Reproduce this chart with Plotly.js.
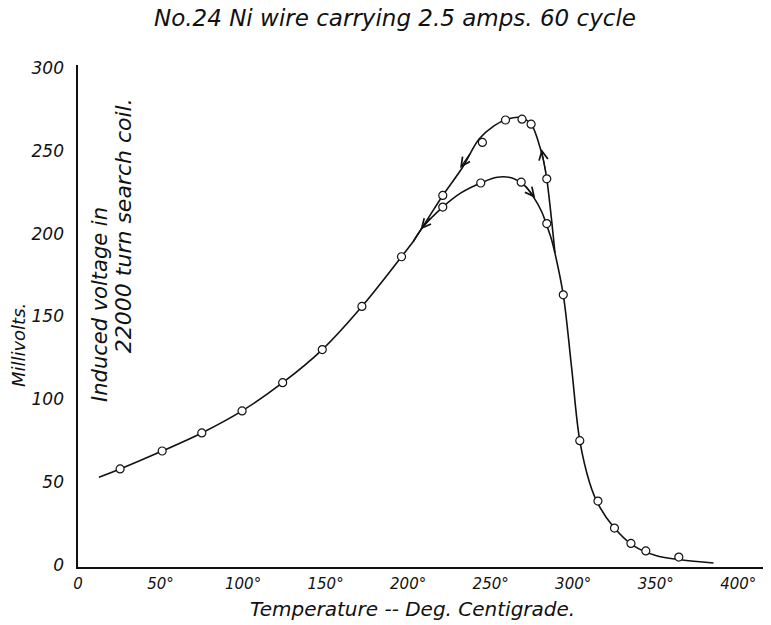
<!DOCTYPE html>
<html>
<head>
<meta charset="utf-8">
<script src="https://cdn.plot.ly/plotly-3.0.1.min.js"></script>
<style>html,body{margin:0;padding:0;background:#fff;}#chart{width:771px;height:625px;}</style>
</head>
<body>
<div id="chart"></div>
<script>
// Observed points (open circles)
const pointTemp = [25.5, 51, 75, 99.4, 124, 148, 172, 196, 221, 221, 244, 245, 259, 269, 274.5, 268.5, 284, 284, 294, 304, 315, 325, 335, 344, 364];
const pointMv   = [58, 68.8, 79.7, 93, 110, 130, 156, 186, 223, 216, 230.5, 255, 268.5, 269, 266, 231, 233, 206, 163, 75, 38.6, 22.3, 13, 8.5, 4.8];

// Drawn curve, common rising part
const riseTemp = [12.7, 25.5, 51, 75, 99.4, 124, 148, 172, 196, 203];
const riseMv   = [53, 58, 68.8, 79.7, 93, 110, 130, 156, 186, 195];
// Upper branch
const upperTemp = [203, 212, 221, 233, 243, 252, 260, 268, 274.5, 279, 282, 284, 286.5, 289];
const upperMv   = [195, 209, 223, 240, 257, 265, 269, 270, 266, 255, 244, 233, 212, 188];
// Lower branch
const lowerTemp = [203, 209, 221, 232, 244, 254, 263, 270, 276, 281, 284, 287, 289];
const lowerMv   = [195, 204, 216, 224.5, 230.5, 234, 233.5, 229.5, 222, 213, 205, 196, 188];
// Falling part
const fallTemp = [289, 294, 299, 304, 310, 315, 324, 336, 351, 365, 385];
const fallMv   = [188, 163, 119.5, 75, 49.5, 37, 23.5, 12, 5.4, 3.2, 1.2];

// Arrows: tail and head positions
const arrowTailT = [238, 283.6, 270.5, 214];
const arrowTailV = [249, 236, 229.5, 210];
const arrowHeadT = [231.5, 280.8, 277, 207.5];
const arrowHeadV = [239.5, 251, 221.5, 202.5];

const xTickVals = [0, 50, 100, 150, 200, 250, 300, 350, 400];
const xTickText = ['0', '50°', '100°', '150°', '200°', '250°', '300°', '350°', '400°'];
const yTickVals = [0, 50, 100, 150, 200, 250, 300];
const yTickText = ['0', '50', '100', '150', '200', '250', '300'];

const FONT = 'DejaVu Sans, sans-serif';
const lineStyle = {color: '#111', width: 1.6, shape: 'spline', smoothing: 1};

const traces = [
  {x: riseTemp, y: riseMv, mode: 'lines', line: lineStyle, hoverinfo: 'skip'},
  {x: upperTemp, y: upperMv, mode: 'lines', line: lineStyle, hoverinfo: 'skip'},
  {x: lowerTemp, y: lowerMv, mode: 'lines', line: lineStyle, hoverinfo: 'skip'},
  {x: fallTemp, y: fallMv, mode: 'lines', line: lineStyle, hoverinfo: 'skip'},
  {x: pointTemp, y: pointMv, mode: 'markers',
   marker: {symbol: 'circle', size: 8, color: '#fff', line: {color: '#111', width: 1.2}}}
];

const annotations = [];
for (let i = 0; i < arrowHeadT.length; i++) {
  annotations.push({x: arrowHeadT[i], y: arrowHeadV[i], ax: arrowTailT[i], ay: arrowTailV[i],
    xref: 'x', yref: 'y', axref: 'x', ayref: 'y', text: '', showarrow: true,
    arrowhead: 5, arrowsize: 1.6, arrowwidth: 1.1, arrowcolor: '#111'});
}
const txt = (text, x, y, size, angle) => ({text, x, y, xref: 'paper', yref: 'paper',
  xanchor: 'center', yanchor: 'middle', showarrow: false, textangle: angle || 0,
  font: {family: FONT, size, color: '#111', style: 'italic', weight: 300}});
annotations.push(txt('No.24 Ni wire carrying 2.5 amps. 60 cycle', 0.463, 1.094, 23));
annotations.push(txt('Millivolts.', -0.0876, 0.442, 18, -90));
annotations.push(txt('Induced voltage in', 0.0321, 0.524, 21, -90));
annotations.push(txt('22000 turn search coil.', 0.0657, 0.679, 22, -90));
annotations.push(txt('Temperature -- Deg. Centigrade.', 0.4876, -0.0837, 20));

const layout = {
  width: 771, height: 625,
  margin: {l: 78, r: 8, t: 65, b: 58},
  paper_bgcolor: '#fff', plot_bgcolor: '#fff',
  showlegend: false,
  xaxis: {range: [0, 415], showgrid: false, zeroline: false, showline: true, linecolor: '#111', linewidth: 1.6,
    ticks: '', tickvals: xTickVals, ticktext: xTickText, ticklabelstandoff: 2,
    tickfont: {family: FONT, size: 15, color: '#111', style: 'italic', weight: 300}},
  yaxis: {range: [-1.2, 301.7], showgrid: false, zeroline: false, showline: true, linecolor: '#111', linewidth: 1.6,
    ticks: '', tickvals: yTickVals, ticktext: yTickText, ticklabelstandoff: 9,
    tickfont: {family: FONT, size: 17, color: '#111', style: 'italic', weight: 300}},
  annotations
};
Plotly.newPlot('chart', traces, layout, {staticPlot: true});
</script>
</body>
</html>
